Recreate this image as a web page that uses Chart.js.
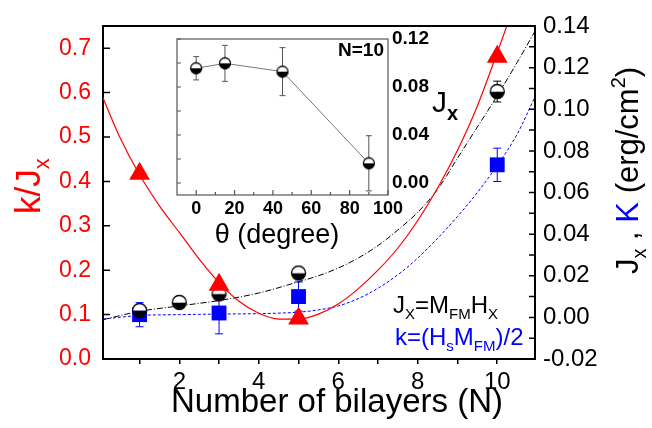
<!DOCTYPE html>
<html>
<head>
<meta charset="utf-8">
<script src="https://cdn.jsdelivr.net/npm/chart.js@4.4.1/dist/chart.umd.min.js"></script>
<style>
  html, body { margin: 0; padding: 0; background: #fff; }
  #wrap { position: relative; width: 652px; height: 428px; }
  #main { position: absolute; left: 0; top: 0; }
  #inset { position: absolute; left: 150px; top: 30px; }
</style>
</head>
<body>
<div id="wrap">
  <canvas id="main" width="652" height="428"></canvas>
  <canvas id="inset" width="320" height="225"></canvas>
</div>
<script>
// ---- data ----
// k/Jx ratio (left axis, red triangles)
const ratioN = [1, 3, 5, 10];
const ratio = [0.417, 0.167, 0.091, 0.681];

// Jx (right axis, half filled circles)
const jxN = [1, 2, 3, 5, 10];
const jx = [0.0033, 0.0072, 0.0113, 0.0213, 0.1085];
const jxErr = [0, 0, 0, 0, 0.005];

// K (right axis, blue squares)
const kN = [1, 3, 5, 10];
const kVal = [0.0013, 0.0021, 0.0100, 0.0733];
const kErr = [0.0058, 0.010, 0.007, 0.008];

// guide curves
const redFitN = [0.08, 0.5, 1, 1.5, 2, 2.5, 3, 3.5, 4, 4.5, 5, 5.5, 6, 6.5, 7, 7.5, 8, 8.5, 9, 9.5, 10, 10.4];
const redFit = [0.588, 0.50, 0.415, 0.345, 0.285, 0.225, 0.172, 0.130, 0.103, 0.090, 0.090, 0.101, 0.124, 0.158, 0.200, 0.250, 0.312, 0.385, 0.470, 0.570, 0.690, 0.79];
const blackFitN = [0.08, 1, 2, 3, 4, 5, 5.5, 6, 6.5, 7, 7.5, 8, 8.5, 9, 9.5, 10, 10.5, 10.95];
const blackFit = [-0.0011, 0.0029, 0.0055, 0.0081, 0.0117, 0.0171, 0.0200, 0.0237, 0.0285, 0.0345, 0.0420, 0.0505, 0.0615, 0.0765, 0.0915, 0.1065, 0.1225, 0.1375];
const blueFitN = [0.08, 1, 2, 3, 4, 5, 5.5, 6, 6.5, 7, 7.5, 8, 8.5, 9, 9.5, 10, 10.5, 10.95];
const blueFit = [-0.0008, 0.0009, 0.0013, 0.0016, 0.0018, 0.0025, 0.0036, 0.0055, 0.0090, 0.0140, 0.0205, 0.0285, 0.0380, 0.0485, 0.0600, 0.0730, 0.0880, 0.1060];

// inset: Jx vs angle for N=10
const theta = [0, 15, 45, 90];
const jxTheta = [0.0956, 0.0997, 0.0928, 0.0164];
const jxThetaErr = [0.0097, 0.015, 0.020, 0.023];

// tick positions
const xTicks = [1, 2, 3, 4, 5, 6, 7, 8, 9, 10];
const leftTicks = [0, 0.1, 0.2, 0.3, 0.4, 0.5, 0.6, 0.7];
const rightTicks = [-0.02, 0, 0.02, 0.04, 0.06, 0.08, 0.10, 0.12, 0.14];
const rightMinor = [-0.01, 0.01, 0.03, 0.05, 0.07, 0.09, 0.11, 0.13];
const insetXTicks = [0, 20, 40, 60, 80, 100];
const insetXMinor = [10, 30, 50, 70, 90];
const insetYTicks = [0, 0.04, 0.08, 0.12];
const insetYMarks = [0, 0.02, 0.04, 0.06, 0.08, 0.10, 0.12];

const FONT = "'Liberation Sans', Arial, sans-serif";
const RED = "#ff0000";
const BLUE = "#0000ff";

const pts = (xs, ys) => xs.map((x, i) => ({ x: x, y: ys[i] }));

// half white / half black circle used for the Jx markers
function halfDot(r) {
  const c = document.createElement("canvas");
  const s = Math.ceil(2 * r + 3);
  c.width = c.height = s;
  const g = c.getContext("2d");
  const m = s / 2;
  g.beginPath(); g.arc(m, m, r, 0, Math.PI); g.fillStyle = "#000"; g.fill();
  g.beginPath(); g.arc(m, m, r, Math.PI, 2 * Math.PI); g.fillStyle = "#fff"; g.fill();
  g.beginPath(); g.arc(m, m, r, 0, 2 * Math.PI);
  g.lineWidth = 1.3; g.strokeStyle = "#000"; g.stroke();
  return c;
}

// error bars, drawn under the markers
const errorBars = {
  id: "errorBars",
  beforeDatasetsDraw(chart) {
    const ctx = chart.ctx;
    chart.data.datasets.forEach((ds, i) => {
      if (!ds.errors) return;
      const meta = chart.getDatasetMeta(i);
      const ys = chart.scales[ds.yAxisID];
      ctx.save();
      ctx.strokeStyle = ds.errColor;
      ctx.lineWidth = 1;
      meta.data.forEach((el, j) => {
        const e = ds.errors[j];
        if (!e) return;
        const v = ds.data[j].y;
        const t = ys.getPixelForValue(v + e);
        const b = ys.getPixelForValue(v - e);
        const w = ds.capWidth || 4;
        ctx.beginPath();
        ctx.moveTo(el.x, t); ctx.lineTo(el.x, b);
        ctx.moveTo(el.x - w, t); ctx.lineTo(el.x + w, t);
        ctx.moveTo(el.x - w, b); ctx.lineTo(el.x + w, b);
        ctx.stroke();
      });
      ctx.restore();
    });
  }
};

// writes a row of text pieces (for sub/superscripts and mixed colours)
function drawRuns(ctx, x, y, runs) {
  runs.forEach(r => {
    ctx.font = r.font;
    ctx.fillStyle = r.color;
    ctx.fillText(r.t, x, y + (r.dy || 0));
    x += ctx.measureText(r.t).width;
  });
}

// inward tick marks, frame top line and the free text of the main plot
const mainDecor = {
  id: "mainDecor",
  afterDraw(chart) {
    const ctx = chart.ctx;
    const a = chart.chartArea;
    const yL = chart.scales.yL, yR = chart.scales.yR;
    ctx.save();
    ctx.strokeStyle = "#000";
    ctx.lineWidth = 2;
    ctx.beginPath();
    ctx.moveTo(a.left - 1, a.top); ctx.lineTo(a.right + 1, a.top);
    ctx.stroke();
    ctx.lineWidth = 1.5;
    ctx.beginPath();
    leftTicks.forEach(v => {
      const y = yL.getPixelForValue(v);
      ctx.moveTo(a.left, y); ctx.lineTo(a.left + 7, y);
    });
    rightTicks.concat(rightMinor).forEach(v => {
      const y = yR.getPixelForValue(v);
      ctx.moveTo(a.right, y); ctx.lineTo(a.right - 6, y);
    });
    ctx.stroke();

    ctx.textBaseline = "alphabetic";
    ctx.textAlign = "left";

    // left title k/Jx
    ctx.save();
    ctx.translate(40, 214);
    ctx.rotate(-Math.PI / 2);
    drawRuns(ctx, 0, 0, [
      { t: "k/J", font: "35px " + FONT, color: RED },
      { t: "x", font: "22px " + FONT, color: RED, dy: 9 }
    ]);
    ctx.restore();

    // right title Jx , K (erg/cm2)
    ctx.save();
    ctx.translate(638, 274);
    ctx.rotate(-Math.PI / 2);
    drawRuns(ctx, 0, 0, [
      { t: "J", font: "31px " + FONT, color: "#000" },
      { t: "x", font: "20px " + FONT, color: "#000", dy: 8 },
      { t: " , ", font: "31px " + FONT, color: "#000" },
      { t: "K", font: "31px " + FONT, color: BLUE },
      { t: " (erg/cm", font: "31px " + FONT, color: "#000" },
      { t: "2", font: "20px " + FONT, color: "#000", dy: -13 },
      { t: ")", font: "31px " + FONT, color: "#000" }
    ]);
    ctx.restore();

    // bottom title
    ctx.font = "33px " + FONT;
    ctx.fillStyle = "#000";
    ctx.textAlign = "center";
    ctx.fillText("Number of bilayers (N)", 337, 412);
    ctx.textAlign = "left";

    // inset y title Jx
    drawRuns(ctx, 432, 112, [
      { t: "J", font: "30px " + FONT, color: "#000" },
      { t: "x", font: "bold 20px " + FONT, color: "#000", dy: 8 }
    ]);

    // definitions
    drawRuns(ctx, 393, 313, [
      { t: "J", font: "24px " + FONT, color: "#000" },
      { t: "X", font: "15px " + FONT, color: "#000", dy: 6 },
      { t: "=M", font: "24px " + FONT, color: "#000" },
      { t: "FM", font: "15px " + FONT, color: "#000", dy: 6 },
      { t: "H", font: "24px " + FONT, color: "#000" },
      { t: "X", font: "15px " + FONT, color: "#000", dy: 6 }
    ]);
    drawRuns(ctx, 395, 345, [
      { t: "k=(H", font: "24px " + FONT, color: BLUE },
      { t: "s", font: "15px " + FONT, color: BLUE, dy: 6 },
      { t: "M", font: "24px " + FONT, color: BLUE },
      { t: "FM", font: "15px " + FONT, color: BLUE, dy: 6 },
      { t: ")/2", font: "24px " + FONT, color: BLUE }
    ]);
    ctx.restore();
  }
};

const fixTicks = list => scale => { scale.ticks = list.map(v => ({ value: v })); };
// keep the plot box where the figure has it
const fixWidth = w => s => { s.width = w; s.paddingTop = 0; s.paddingBottom = 0; };
const fixHeight = h => s => { s.height = h; s.paddingLeft = 0; s.paddingRight = 0; };

new Chart(document.getElementById("main"), {
  type: "scatter",
  data: {
    datasets: [
      {
        label: "k/Jx",
        data: pts(ratioN, ratio),
        yAxisID: "yL",
        pointStyle: "triangle",
        pointRadius: 12,
        backgroundColor: RED,
        borderColor: RED,
        borderWidth: 0,
        order: 0
      },
      {
        label: "Jx",
        data: pts(jxN, jx),
        yAxisID: "yR",
        pointStyle: halfDot(7),
        pointRadius: 7,
        errors: jxErr,
        errColor: "#000",
        order: 1
      },
      {
        label: "K",
        data: pts(kN, kVal),
        yAxisID: "yR",
        pointStyle: "rect",
        pointRadius: 10.5,
        backgroundColor: BLUE,
        borderColor: BLUE,
        borderWidth: 0,
        errors: kErr,
        errColor: BLUE,
        order: 2
      },
      {
        label: "k/Jx fit",
        data: pts(redFitN, redFit),
        yAxisID: "yL",
        showLine: true,
        pointRadius: 0,
        borderColor: RED,
        borderWidth: 1.2,
        cubicInterpolationMode: "monotone",
        order: 5
      },
      {
        label: "Jx fit",
        data: pts(blackFitN, blackFit),
        yAxisID: "yR",
        showLine: true,
        pointRadius: 0,
        borderColor: "#000",
        borderWidth: 1,
        borderDash: [6, 2, 1, 2],
        cubicInterpolationMode: "monotone",
        order: 6
      },
      {
        label: "K fit",
        data: pts(blueFitN, blueFit),
        yAxisID: "yR",
        showLine: true,
        pointRadius: 0,
        borderColor: BLUE,
        borderWidth: 1,
        borderDash: [3, 2],
        cubicInterpolationMode: "monotone",
        order: 7
      }
    ]
  },
  options: {
    responsive: false,
    animation: false,
    events: [],
    layout: { padding: { top: 26, left: 0, right: 0, bottom: 0 } },
    plugins: { legend: { display: false }, tooltip: { enabled: false } },
    scales: {
      x: {
        type: "linear",
        min: 0.08,
        max: 10.95,
        afterBuildTicks: fixTicks(xTicks),
        afterFit: fixHeight(69),
        grid: { drawOnChartArea: false, drawTicks: true, tickLength: 5, color: "#000", lineWidth: 1.5 },
        border: { display: true, color: "#000", width: 2 },
        ticks: {
          color: "#000",
          font: { family: FONT, size: 24 },
          padding: 4,
          maxRotation: 0,
          autoSkip: false,
          callback: v => (v % 2 === 0 ? String(v) : "")
        }
      },
      yL: {
        type: "linear",
        position: "left",
        min: 0,
        max: 0.75,
        afterBuildTicks: fixTicks(leftTicks),
        afterFit: fixWidth(103),
        grid: { display: false, drawTicks: false },
        border: { display: true, color: "#000", width: 2 },
        ticks: {
          color: RED,
          font: { family: FONT, size: 23 },
          padding: 12,
          callback: v => v.toFixed(1)
        }
      },
      yR: {
        type: "linear",
        position: "right",
        min: -0.02,
        max: 0.14,
        afterBuildTicks: fixTicks(rightTicks),
        afterFit: fixWidth(117),
        grid: { display: false, drawTicks: false },
        border: { display: true, color: "#000", width: 2 },
        ticks: {
          color: "#000",
          font: { family: FONT, size: 24 },
          padding: 8,
          callback: v => v.toFixed(2)
        }
      }
    }
  },
  plugins: [errorBars, mainDecor]
});

// ---- inset ----
const insetDecor = {
  id: "insetDecor",
  afterDraw(chart) {
    const ctx = chart.ctx;
    const a = chart.chartArea;
    const xs = chart.scales.x, ys = chart.scales.y;
    ctx.save();
    ctx.strokeStyle = "#555";
    ctx.lineWidth = 1.2;
    ctx.strokeRect(a.left, a.top, a.right - a.left, a.bottom - a.top);
    ctx.beginPath();
    insetYMarks.forEach(v => {
      const y = ys.getPixelForValue(v);
      ctx.moveTo(a.left, y); ctx.lineTo(a.left + 4, y);
    });
    insetXTicks.forEach(v => {
      const x = xs.getPixelForValue(v);
      ctx.moveTo(x, a.bottom); ctx.lineTo(x, a.bottom - 5);
    });
    insetXMinor.forEach(v => {
      const x = xs.getPixelForValue(v);
      ctx.moveTo(x, a.bottom); ctx.lineTo(x, a.bottom - 3);
    });
    ctx.stroke();

    ctx.fillStyle = "#000";
    ctx.font = "bold 19px " + FONT;
    ctx.textAlign = "right";
    ctx.textBaseline = "alphabetic";
    ctx.fillText("N=10", a.right - 4, 26);

    ctx.font = "27px " + FONT;
    ctx.textAlign = "center";
    ctx.textBaseline = "middle";
    ctx.fillText("\u03B8 (degree)", 127, 206);
    ctx.restore();
  }
};

new Chart(document.getElementById("inset"), {
  type: "scatter",
  data: {
    datasets: [{
      label: "Jx(theta)",
      data: pts(theta, jxTheta),
      yAxisID: "y",
      showLine: true,
      borderColor: "#777",
      borderWidth: 1,
      pointStyle: halfDot(5.5),
      pointRadius: 5.5,
      errors: jxThetaErr,
      errColor: "#555",
      capWidth: 3
    }]
  },
  options: {
    responsive: false,
    animation: false,
    events: [],
    layout: { padding: { top: 9, left: 27, right: 0, bottom: 0 } },
    plugins: { legend: { display: false }, tooltip: { enabled: false } },
    scales: {
      x: {
        type: "linear",
        min: -10,
        max: 100,
        afterBuildTicks: fixTicks(insetXTicks),
        afterFit: fixHeight(60),
        grid: { display: false, drawTicks: false },
        border: { display: false },
        ticks: {
          color: "#000",
          font: { family: FONT, size: 18, weight: "bold" },
          padding: 3,
          maxRotation: 0,
          autoSkip: false
        }
      },
      y: {
        type: "linear",
        position: "right",
        min: -0.01,
        max: 0.12,
        afterBuildTicks: fixTicks(insetYTicks),
        afterFit: fixWidth(82),
        grid: { display: false, drawTicks: false },
        border: { display: false },
        ticks: {
          color: "#000",
          font: { family: FONT, size: 19, weight: "bold" },
          padding: 4,
          callback: v => v.toFixed(2)
        }
      }
    }
  },
  plugins: [errorBars, insetDecor]
});
</script>
</body>
</html>
